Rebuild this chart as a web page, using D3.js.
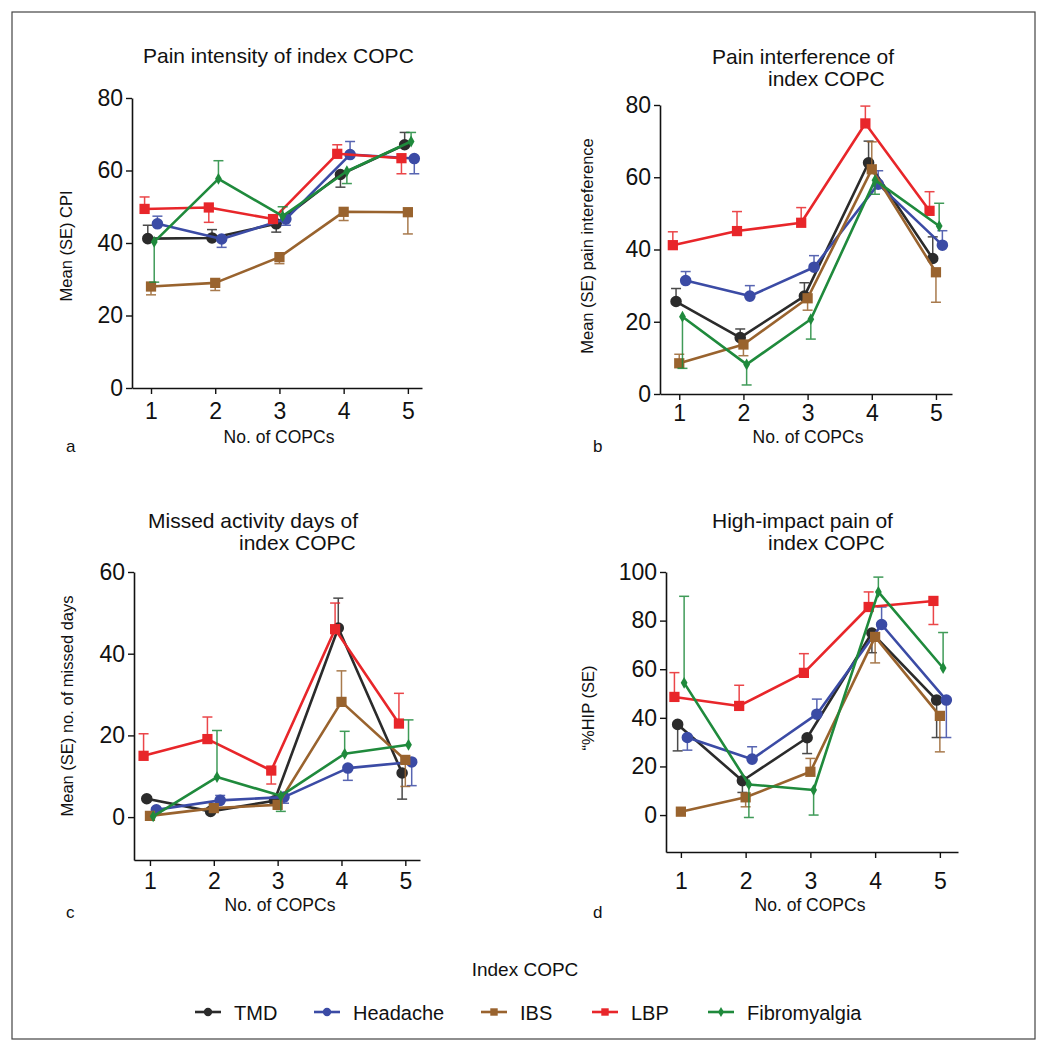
<!DOCTYPE html>
<html><head><meta charset="utf-8">
<script src="https://cdn.jsdelivr.net/npm/d3@7/dist/d3.min.js"></script>
<style>
body{margin:0;background:#fff;}
text{font-family:"Liberation Sans",Arial,Helvetica,sans-serif;fill:#111;}
</style></head>
<body>
<svg id="chart" width="1047" height="1050"></svg>
<script>
// ---- data ----
const categories = ["TMD", "Headache", "IBS", "LBP", "Fibromyalgia"];
const colors = ["#2b2b2b", "#3b4ba5", "#99632e", "#e8262a", "#1f8a3c"];
const markers = ["circle", "circle", "square", "square", "diamond"];
const copcCounts = [1, 2, 3, 4, 5];

// Pain intensity (CPI): rows = categories, cols = No. of COPCs
const intensityMeans = [
  [41.2, 41.4, 45.3, 58.9, 67.1],
  [45.3, 41.1, 46.6, 64.4, 63.3],
  [28.0, 29.0, 36.1, 48.6, 48.5],
  [49.4, 49.8, 46.6, 64.6, 63.4],
  [40.3, 57.7, 47.4, 59.8, 68.0]
];
// signed SE (positive = bar drawn up, negative = drawn down)
const intensitySE = [
  [3.7, 2.3, -2.3, -3.5, 3.4],
  [2.1, -2.3, -1.7, 3.6, -4.2],
  [-2.3, -2.1, -1.8, -2.4, -6.0],
  [3.3, -4.1, 1.1, 2.5, -4.3],
  [-11.1, 5.0, 2.6, -3.4, 2.5]
];

const interferenceMeans = [
  [25.6, 15.6, 27.1, 64.0, 37.5],
  [31.4, 27.1, 35.1, 58.1, 41.2],
  [8.5, 13.7, 26.5, 62.2, 33.7],
  [41.2, 45.1, 47.4, 74.9, 50.7],
  [21.4, 8.2, 20.7, 59.2, 46.5]
];
const interferenceSE = [
  [3.6, 2.4, 3.7, 6.0, 6.0],
  [2.5, 2.9, 3.2, 3.7, 4.0],
  [2.5, -3.1, -3.3, 7.6, -8.3],
  [3.7, 5.4, 4.2, 4.8, 5.3],
  [-14.3, -5.7, -5.5, -3.9, 6.3]
];

const missedMeans = [
  [4.5, 1.4, 4.0, 46.3, 10.8],
  [1.8, 4.1, 4.9, 12.0, 13.5],
  [0.3, 2.2, 3.0, 28.2, 14.0],
  [15.0, 19.1, 11.4, 46.0, 22.9],
  [0.2, 9.8, 5.2, 15.5, 17.7]
];
const missedSE = [
  [0, 0, 0.8, 7.3, -6.4],
  [0, 1.2, -1.5, -3.0, -5.8],
  [0, 0, 0, 7.6, -6.5],
  [5.4, 5.4, -3.3, 6.4, 7.4],
  [0, 11.4, -3.8, 5.5, 6.1]
];

const hipMeans = [
  [37.3, 14.1, 31.8, 74.9, 47.3],
  [31.9, 23.0, 41.5, 78.4, 47.3],
  [1.4, 7.3, 17.8, 73.3, 40.8],
  [48.6, 44.9, 58.5, 85.6, 88.1],
  [54.4, 12.6, 10.3, 91.8, 60.5]
];
const hipSE = [
  [-10.9, -4.8, -6.5, -8.1, -15.4],
  [-5.2, 5.1, 6.2, 7.2, -15.4],
  [0, -3.9, 5.5, -10.7, -14.8],
  [10.0, 8.5, 7.9, 6.2, -9.7],
  [35.6, -13.6, -10.3, 6.1, 14.6]
];

const ticksCPI = [0, 20, 40, 60, 80];
const ticksInterference = [0, 20, 40, 60, 80];
const ticksMissed = [0, 20, 40, 60];
const ticksHIP = [0, 20, 40, 60, 80, 100];

// dodge offsets (in x units) per category
const dodge = [-0.05, 0.1, 0, -0.1, 0.05];

// ---- layout ----
const panels = [
  {means: intensityMeans, se: intensitySE, ticks: ticksCPI,
   xr: [132, 422], xd: [0.704, 5.22], yr: [388, 98], yd: [0, 80],
   title: [["Pain intensity of index COPC", 143, 63]],
   ylab: "Mean (SE) CPI", ylx: 72, yly: 246,
   xlab: [279, 443], letter: ["a", 66, 452], tickLabY: 419},
  {means: interferenceMeans, se: interferenceSE, ticks: ticksInterference,
   xr: [660, 952], xd: [0.70, 5.25], yr: [394, 105], yd: [0, 80],
   title: [["Pain interference of", 712, 64], ["index COPC", 768, 86]],
   ylab: "Mean (SE) pain intereference", ylx: 593, yly: 246,
   xlab: [808, 443], letter: ["b", 593, 452], tickLabY: 421},
  {means: missedMeans, se: missedSE, ticks: ticksMissed,
   xr: [134, 420], xd: [0.75, 5.23], yr: [860, 572], yd: [-10.5, 60],
   title: [["Missed activity days of", 148, 528], ["index COPC", 239, 550]],
   ylab: "Mean (SE) no. of missed days", ylx: 73, yly: 706,
   xlab: [280, 911], letter: ["c", 66, 918], tickLabY: 889},
  {means: hipMeans, se: hipSE, ticks: ticksHIP,
   xr: [666, 958], xd: [0.77, 5.28], yr: [852, 572], yd: [-15.2, 100],
   title: [["High-impact pain of", 712, 528], ["index COPC", 768, 550]],
   ylab: "\u201C%HIP (SE)", ylx: 594, yly: 708,
   xlab: [810, 911], letter: ["d", 593, 918], tickLabY: 889}
];

const svg = d3.select("#chart");

// frame
svg.append("rect").attr("x", 12).attr("y", 12).attr("width", 1023).attr("height", 1027)
  .attr("fill", "none").attr("stroke", "#444").attr("stroke-width", 1.2);

const symSize = {circle: 105, square: 105, diamond: 40};
function symbolFor(m) {
  return m === "circle" ? d3.symbolCircle : m === "square" ? d3.symbolSquare : d3.symbolDiamond;
}

panels.forEach(p => {
  const g = svg.append("g");
  const x = d3.scaleLinear().domain(p.xd).range(p.xr);
  const y = d3.scaleLinear().domain(p.yd).range(p.yr);

  // axes
  const yAxis = d3.axisLeft(y).tickValues(p.ticks).tickSize(6).tickSizeOuter(0).tickPadding(3);
  const ya = g.append("g").attr("transform", `translate(${p.xr[0]},0)`).call(yAxis);
  const xAxis = d3.axisBottom(x).tickValues(copcCounts).tickSize(6).tickSizeOuter(0).tickFormat(d3.format("d"));
  const xa = g.append("g").attr("transform", `translate(0,${p.yr[0]})`).call(xAxis);
  [ya, xa].forEach(a => {
    a.select(".domain").attr("stroke", "#111").attr("stroke-width", 1.6);
    a.selectAll(".tick line").attr("stroke", "#111").attr("stroke-width", 1.4);
    a.selectAll(".tick text").style("font-size", "23px").attr("fill", "#111")
      .style("font-family", "'Liberation Sans',Arial,sans-serif");
  });
  xa.selectAll(".tick text").attr("y", null).attr("dy", null)
    .attr("transform", `translate(0,${p.tickLabY - p.yr[0]})`);

  // series
  categories.forEach((c, i) => {
    const col = colors[i];
    const pts = copcCounts.map((k, j) => ({x: k + dodge[i], v: p.means[i][j], e: p.se[i][j]}));
    // error bars
    const eb = g.append("g").attr("stroke", col).attr("stroke-width", 1.5).attr("opacity", 0.85);
    pts.filter(d => d.e !== 0).forEach(d => {
      const x0 = x(d.x), y0 = y(d.v), y1 = y(d.v + d.e);
      eb.append("line").attr("x1", x0).attr("x2", x0).attr("y1", y0).attr("y2", y1);
      eb.append("line").attr("x1", x0 - 5).attr("x2", x0 + 5).attr("y1", y1).attr("y2", y1);
    });
    // line
    g.append("path").datum(pts)
      .attr("d", d3.line().x(d => x(d.x)).y(d => y(d.v)))
      .attr("fill", "none").attr("stroke", col).attr("stroke-width", 2.6)
      .attr("stroke-linejoin", "round");
    // markers
    g.selectAll(null).data(pts).enter().append("path")
      .attr("transform", d => `translate(${x(d.x)},${y(d.v)})`)
      .attr("d", d3.symbol().type(symbolFor(markers[i])).size(symSize[markers[i]]))
      .attr("fill", col);
  });

  // texts
  p.title.forEach(t => {
    g.append("text").attr("x", t[1]).attr("y", t[2]).style("font-size", "21px").text(t[0]);
  });
  g.append("text").attr("transform", `translate(${p.ylx},${p.yly}) rotate(-90)`)
    .attr("text-anchor", "middle").style("font-size", "16.5px").text(p.ylab);
  g.append("text").attr("x", p.xlab[0]).attr("y", p.xlab[1]).attr("text-anchor", "middle")
    .style("font-size", "17.5px").text("No. of COPCs");
  g.append("text").attr("x", p.letter[1]).attr("y", p.letter[2])
    .style("font-size", "17px").text(p.letter[0]);
});

// legend
svg.append("text").attr("x", 525).attr("y", 976).attr("text-anchor", "middle")
  .style("font-size", "19px").text("Index COPC");
const legendX = [195, 314, 481, 592, 708];
const lg = svg.append("g");
categories.forEach((c, i) => {
  const lx = legendX[i], ly = 1012;
  lg.append("line").attr("x1", lx).attr("x2", lx + 26).attr("y1", ly).attr("y2", ly)
    .attr("stroke", colors[i]).attr("stroke-width", 2.6);
  lg.append("path").attr("transform", `translate(${lx + 13},${ly})`)
    .attr("d", d3.symbol().type(symbolFor(markers[i])).size(markers[i] === "diamond" ? 30 : 55))
    .attr("fill", colors[i]);
  lg.append("text").attr("x", lx + 39).attr("y", ly + 7.5).style("font-size", "20px").text(c);
});
</script>
</body></html>
